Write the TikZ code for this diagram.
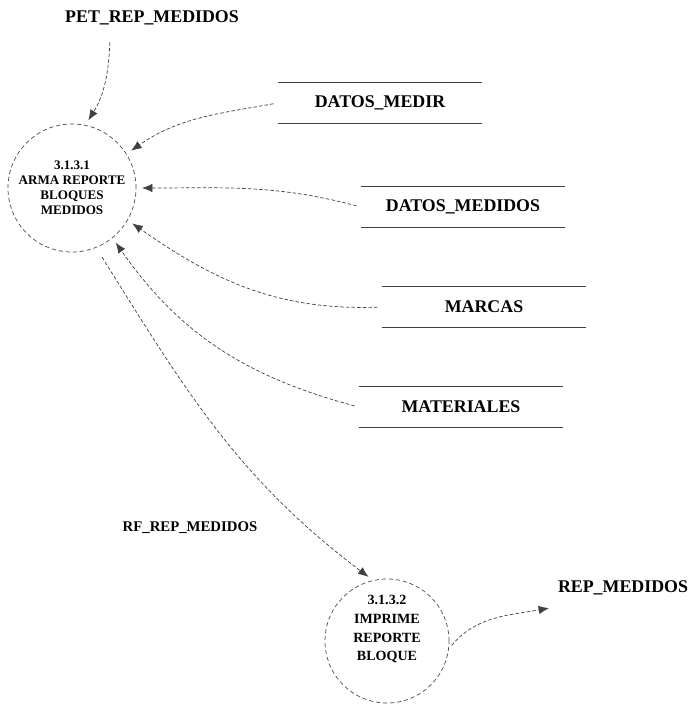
\documentclass[tikz,border=0pt]{standalone}
\usepackage{fontspec}
\setmainfont{Liberation Serif}
\usepackage{tikz}
\usetikzlibrary{arrows.meta, positioning, shapes.geometric}
\tikzset{
    process/.style={
        circle,
        draw=black!70,
        dash pattern=on 3pt off 2pt,
        line width=0.5pt,
        minimum size=3.2cm,
        align=center,
        inner sep=0pt,
        font=\fontsize{9.3}{10.7}\selectfont\bfseries
    },
    proctext/.style={
        align=center,
        font=\fontsize{10}{13.5}\selectfont\bfseries
    },
    store/.style={
        rectangle,
        minimum width=5.1cm,
        minimum height=1cm,
        font=\fontsize{12.7}{14}\selectfont\bfseries
    },
    storeline/.style={
        draw=black!75,
        line width=0.5pt
    },
    extlabel/.style={
        font=\fontsize{12.7}{14}\selectfont\bfseries
    },
    flowlabel/.style={
        font=\fontsize{10.5}{12}\selectfont\bfseries
    },
    flow/.style={
        draw=black!75,
        line width=0.5pt,
        dash pattern=on 2.5pt off 1.5pt,
        -{Latex[length=2.6mm,width=2.1mm]},
        shorten >=4pt,
        shorten <=3pt
    }
}

\begin{document}
\begin{tikzpicture}[x=0.025cm, y=0.025cm]
\useasboundingbox (0,0) rectangle (692,-704);

% Processes
\node[process] (p1) at (72,-188) {3.1.3.1\\ARMA REPORTE\\BLOQUES\\MEDIDOS};
\node[process, minimum size=3.1cm] (p2) at (387,-641) {};
\node[proctext] (p2t) at ([yshift=0.3cm]p2.center) {3.1.3.2\\IMPRIME\\REPORTE\\BLOQUE};

% Data stores
\node[store] (dmr) at (380,-103) {DATOS\_MEDIR};
\node[store] (dmd) at (463,-207) {DATOS\_MEDIDOS};
\node[store] (mar) at (484,-307) {MARCAS};
\node[store] (mat) at (461,-407) {MATERIALES};

\foreach \s in {dmr,dmd,mar,mat}
    \draw[storeline] (\s.north west) -- (\s.north east) (\s.south west) -- (\s.south east);

% Input / output flows
\node[extlabel] (pet) at (152,-18) {PET\_REP\_MEDIDOS};
\node[extlabel] (rep) at (623,-588) {REP\_MEDIDOS};
\node[flowlabel] (rf) at (190,-528) {RF\_REP\_MEDIDOS};

\draw[flow] ([xshift=-1.05cm,yshift=-0.2cm]pet.south) to[out=-92,in=58] (p1.78);
\draw[flow] (dmr.west) to[out=190,in=35] (p1.32);
\draw[flow] (dmd.west) to[out=165,in=0] (p1.0);
\draw[flow] (mar.west) to[out=182,in=-35] (p1.-30);
\draw[flow] (mat.west) to[out=165,in=-55] (p1.-51);
\draw[flow, shorten <=8pt] (p1.-68) to[out=-58,in=143] (p2.103);
\draw[flow, shorten >=0pt] (p2.-7) to[out=50,in=190] ([shift={(-4,-8)}]rep.south west);

\end{tikzpicture}
\end{document}
